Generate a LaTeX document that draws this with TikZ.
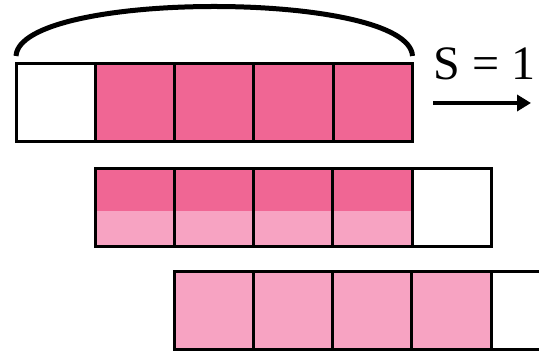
\documentclass[tikz,border=0pt]{standalone}
\usepackage{fontspec}
\setmainfont{Liberation Serif}
\usepackage{tikz}
\usetikzlibrary{arrows.meta,calc}
\definecolor{pinkdark}{RGB}{240,102,148}
\definecolor{pinklight}{RGB}{247,163,194}
\tikzset{
  slot/.style={draw=black,line width=1.5pt,inner sep=0pt,outer sep=0pt,
    minimum width=39.65pt,minimum height=39pt,anchor=north west},
  blankslot/.style={fill=white},
  fullslot/.style={fill=pinkdark},
  paleslot/.style={fill=pinklight},
  halfslot/.style={fill=pinklight,path picture={%
    \fill[pinkdark] (path picture bounding box.north west) rectangle
      ([yshift=-21pt]path picture bounding box.north east);}},
  window/.style={line width=2.5pt},
  shiftarrow/.style={line width=2.2pt,-{Triangle[length=7pt,width=8pt]}},
  stridelabel/.style={font=\fontsize{24}{28}\selectfont,inner sep=0pt,anchor=base west}
}
\newcommand{\slotrow}[4]{%
  \foreach \sK/\sFill in {#4}{%
    \node[slot,\sFill] (r#1c\sK) at ({#2+79.3*(\sK-1)},#3) {};%
  }%
}
\begin{document}
\begin{tikzpicture}[x=0.5pt,y=-0.5pt]
  \clip (0,0) rectangle (539,351);
  \slotrow{1}{16}{64}{1/blankslot,2/fullslot,3/fullslot,4/fullslot,5/fullslot}
  \slotrow{2}{95}{169}{1/halfslot,2/halfslot,3/halfslot,4/halfslot,5/blankslot}
  \slotrow{3}{174}{271.5}{1/paleslot,2/paleslot,3/paleslot,4/paleslot,5/blankslot}
  \draw[window] ([yshift=4pt]r1c1.north west) .. controls +(4,-66) and +(-4,-66) .. ([yshift=4pt]r1c5.north east);
  \node[stridelabel] (stride) at (433,80) {S = 1};
  \coordinate (arrowtail) at (433,103);
  \coordinate (arrowhead) at (531,103);
  \draw[shiftarrow] (arrowtail) -- (arrowhead);
\end{tikzpicture}
\end{document}
